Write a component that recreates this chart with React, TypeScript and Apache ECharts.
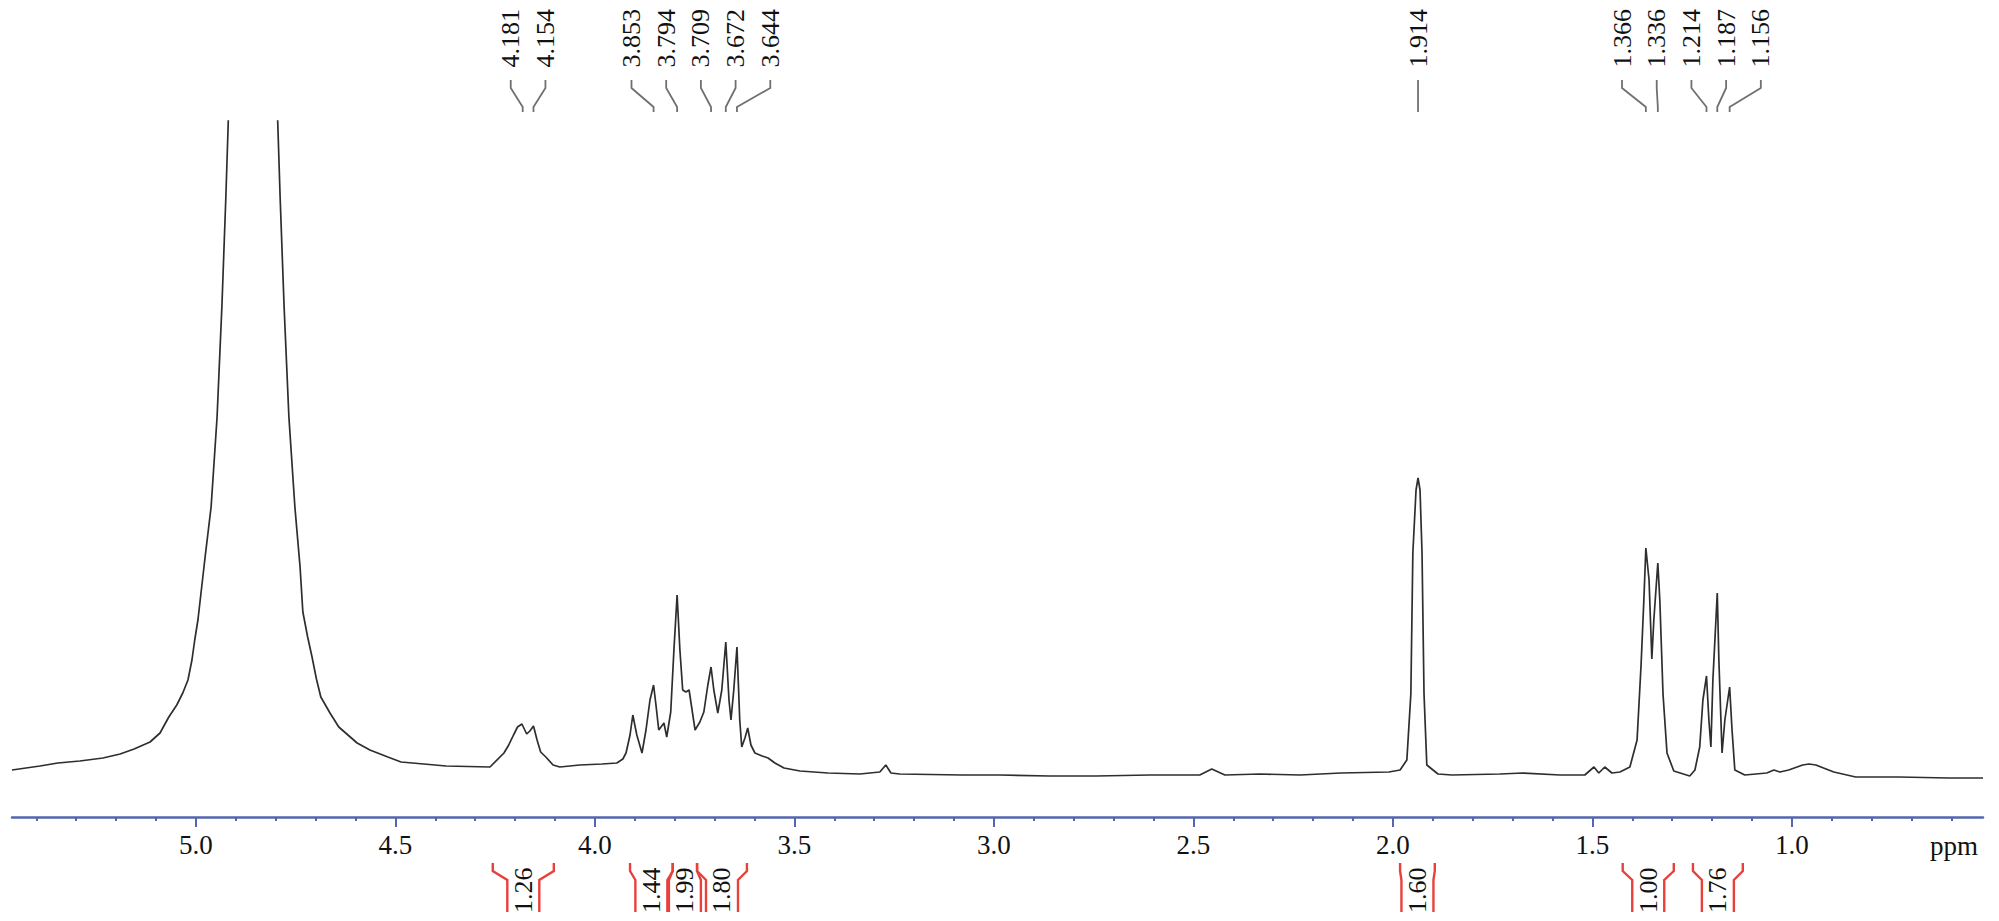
import React, { useEffect, useRef } from "react";
import * as echarts from "echarts";

// 1H NMR spectrum trace: [chemical shift (ppm), intensity (a.u.)]
const spectrum: [number, number][] = [
  [5.461, 47], [5.391, 51], [5.346, 54], [5.291, 56], [5.233, 59], [5.19, 63], [5.155, 68], [5.115, 75],
  [5.09, 84], [5.068, 100], [5.048, 112], [5.033, 124], [5.02, 137], [5.01, 157], [5.003, 177], [4.995, 197],
  [4.977, 260], [4.962, 310], [4.947, 400], [4.935, 510], [4.925, 620], [4.917, 720], [4.9, 1250], [4.88, 2400],
  [4.857, 3900], [4.835, 2400], [4.815, 1250], [4.797, 720], [4.789, 620], [4.779, 510], [4.767, 400], [4.752, 310],
  [4.739, 250], [4.732, 205], [4.72, 180], [4.709, 160], [4.698, 138], [4.687, 120], [4.664, 104], [4.642, 90], [4.596, 74], [4.564, 67],
  [4.519, 60], [4.486, 55], [4.429, 53], [4.373, 51], [4.263, 50],
  [4.228, 64], [4.216, 72], [4.204, 82], [4.194, 90], [4.183, 93], [4.171, 83], [4.163, 86], [4.154, 91],
  [4.145, 77], [4.136, 65], [4.123, 60], [4.105, 52], [4.088, 50], [4.038, 52], [3.982, 53], [3.945, 54],
  [3.93, 58], [3.922, 64], [3.912, 82], [3.905, 102], [3.895, 82], [3.882, 64], [3.872, 87], [3.862, 117],
  [3.853, 132], [3.847, 112], [3.84, 87], [3.827, 94], [3.82, 80], [3.81, 105], [3.802, 167], [3.794, 222],
  [3.787, 167], [3.78, 127], [3.772, 125], [3.764, 127], [3.749, 87], [3.737, 95], [3.727, 105], [3.717, 132],
  [3.709, 150], [3.702, 127], [3.692, 104], [3.682, 127], [3.672, 175], [3.664, 117], [3.659, 97], [3.652, 127],
  [3.644, 170], [3.637, 97], [3.632, 70], [3.624, 79], [3.617, 89], [3.609, 72], [3.599, 64], [3.581, 61],
  [3.566, 59], [3.549, 54], [3.526, 49], [3.486, 46], [3.416, 44], [3.336, 43], [3.286, 45], [3.271, 52],
  [3.258, 44], [3.236, 43], [3.08, 42], [2.985, 42], [2.86, 41], [2.744, 41], [2.609, 42], [2.484, 42],
  [2.454, 48], [2.421, 42], [2.333, 43], [2.233, 42], [2.13, 44], [2.01, 45], [1.982, 47], [1.965, 57],
  [1.955, 123], [1.95, 264], [1.942, 327], [1.937, 339], [1.932, 327], [1.927, 264], [1.922, 123], [1.915, 52],
  [1.887, 43], [1.852, 42], [1.732, 43], [1.674, 44], [1.581, 42], [1.519, 42], [1.496, 50], [1.484, 44],
  [1.469, 50], [1.451, 44], [1.431, 45], [1.406, 50], [1.388, 77], [1.378, 152], [1.371, 217], [1.366, 269],
  [1.358, 237], [1.351, 158], [1.346, 197], [1.336, 254], [1.331, 217], [1.323, 123], [1.313, 64], [1.296, 46],
  [1.256, 41], [1.243, 47], [1.231, 70], [1.223, 117], [1.214, 141], [1.208, 97], [1.203, 70], [1.198, 137],
  [1.187, 224], [1.183, 157], [1.175, 64], [1.168, 97], [1.156, 130], [1.15, 87], [1.143, 47], [1.118, 42],
  [1.063, 44], [1.045, 47], [1.03, 45], [1.008, 47], [0.973, 52], [0.957, 53], [0.94, 52], [0.895, 45],
  [0.84, 40], [0.732, 40], [0.607, 39], [0.521, 39],
];

// Peak picking labels and the shift (on the drawn axis) each one points at
const peakLabels = ["4.181", "4.154", "3.853", "3.794", "3.709", "3.672", "3.644", "1.914", "1.366", "1.336", "1.214", "1.187", "1.156"];
const peakMarkPpm = [4.181, 4.154, 3.853, 3.794, 3.709, 3.672, 3.644, 1.937, 1.366, 1.336, 1.214, 1.187, 1.156];

// Integrals: value and integration range (ppm)
const integralValues = ["1.26", "1.44", "1.99", "1.80", "1.60", "1.00", "1.76"];
const integralFrom = [4.256, 3.912, 3.805, 3.744, 1.982, 1.424, 1.248];
const integralTo = [4.103, 3.805, 3.744, 3.619, 1.895, 1.296, 1.123];

// Axis
const axisMin = 0.521;
const axisMax = 5.461;
const majorTicks = [5.0, 4.5, 4.0, 3.5, 3.0, 2.5, 2.0, 1.5, 1.0];
const minorTicks = [
  5.4, 5.3, 5.2, 5.1, 4.9, 4.8, 4.7, 4.6, 4.4, 4.3, 4.2, 4.1, 3.9, 3.8, 3.7, 3.6, 3.4, 3.3, 3.2, 3.1,
  2.9, 2.8, 2.7, 2.6, 2.4, 2.3, 2.2, 2.1, 1.9, 1.8, 1.7, 1.6, 1.4, 1.3, 1.2, 1.1, 0.9, 0.8, 0.7, 0.6,
];
const axisName = "ppm";

const FONT = "Liberation Serif";
const AXIS_BLUE = "#5566b0";
const RED = "#e8413c";

export default function App() {
  const ref = useRef<HTMLDivElement>(null);

  useEffect(() => {
    const chart = echarts.init(ref.current!, null, { renderer: "svg" });
    chart.setOption({
      animation: false,
      backgroundColor: "#ffffff",
      textStyle: { fontFamily: FONT },
      grid: { left: 12, right: 16, top: 121, bottom: 104, containLabel: false },
      xAxis: [
        {
          type: "value",
          min: axisMin,
          max: axisMax,
          inverse: true,
          position: "bottom",
          axisLine: { show: true, lineStyle: { color: AXIS_BLUE, width: 2.5 } },
          axisTick: { show: true, customValues: majorTicks, length: 10, lineStyle: { color: AXIS_BLUE, width: 2 } },
          axisLabel: {
            show: true,
            customValues: majorTicks,
            formatter: (v: number) => v.toFixed(1),
            margin: 14,
            fontSize: 27,
            fontFamily: FONT,
            color: "#111",
          },
          splitLine: { show: false },
        },
        {
          type: "value",
          min: axisMin,
          max: axisMax,
          inverse: true,
          position: "bottom",
          axisLine: { show: false },
          axisTick: { show: true, customValues: minorTicks, length: 4, lineStyle: { color: AXIS_BLUE, width: 2 } },
          axisLabel: { show: false },
          splitLine: { show: false },
        },
      ],
      yAxis: { type: "value", min: 0, max: 696, show: false },
      series: [
        {
          type: "line",
          xAxisIndex: 0,
          data: spectrum,
          showSymbol: false,
          symbol: "none",
          clip: true,
          silent: true,
          lineStyle: { color: "#2e2e2e", width: 1.7 },
        },
      ],
    });

    const toX = (v: number) => chart.convertToPixel({ xAxisIndex: 0 }, v) as unknown as number;
    const elements: any[] = [];

    // ---- peak labels with de-overlap layout ----
    const gap = 34.7;
    const xs = peakMarkPpm.map(toX);
    let clusters = xs.map((x, i) => ({ idx: [i], sum: x }));
    let changed = true;
    while (changed) {
      changed = false;
      for (let k = 0; k < clusters.length - 1; k++) {
        const a = clusters[k];
        const b = clusters[k + 1];
        const aRight = a.sum / a.idx.length + ((a.idx.length - 1) / 2) * gap;
        const bLeft = b.sum / b.idx.length - ((b.idx.length - 1) / 2) * gap;
        if (bLeft - aRight < gap) {
          clusters.splice(k, 2, { idx: a.idx.concat(b.idx), sum: a.sum + b.sum });
          changed = true;
          break;
        }
      }
    }
    const labelX: number[] = new Array(xs.length);
    clusters.forEach((c) => {
      const center = c.sum / c.idx.length;
      c.idx.forEach((i, j) => {
        labelX[i] = center + (j - (c.idx.length - 1) / 2) * gap;
      });
    });
    peakLabels.forEach((t, i) => {
      const lx = labelX[i];
      const px = xs[i];
      elements.push({
        type: "text",
        x: lx,
        y: 9,
        rotation: Math.PI / 2,
        style: { text: t, fontSize: 26, fontFamily: FONT, fill: "#111", align: "right", verticalAlign: "middle" },
      });
      elements.push({
        type: "polyline",
        shape: { points: [[lx, 80], [lx, 88], [px, 107], [px, 112]] },
        style: { stroke: "#707070", lineWidth: 1.8, fill: null },
      });
    });

    // ---- integrals ----
    integralValues.forEach((t, i) => {
      const oL = toX(integralFrom[i]);
      const oR = toX(integralTo[i]);
      const c = (oL + oR) / 2;
      const iL = c - 16;
      const iR = c + 16;
      elements.push({
        type: "polyline",
        shape: { points: [[oL, 863], [oL, 871], [iL, 880], [iL, 912]] },
        style: { stroke: RED, lineWidth: 2.4, fill: null },
      });
      elements.push({
        type: "polyline",
        shape: { points: [[oR, 863], [oR, 871], [iR, 880], [iR, 912]] },
        style: { stroke: RED, lineWidth: 2.4, fill: null },
      });
      elements.push({
        type: "text",
        x: c,
        y: 913,
        rotation: Math.PI / 2,
        style: { text: t, fontSize: 26, fontFamily: FONT, fill: "#111", align: "left", verticalAlign: "middle" },
      });
    });

    // ---- axis unit ----
    elements.push({
      type: "text",
      x: toX(axisMin) - 5,
      y: 846,
      style: { text: axisName, fontSize: 27, fontFamily: FONT, fill: "#111", align: "right", verticalAlign: "middle" },
    });

    chart.setOption({ graphic: { elements } });

    return () => chart.dispose();
  }, []);

  return (
    <div
      ref={ref}
      style={{ position: "fixed", left: 0, top: 0, width: 1999, height: 921, background: "#fff" }}
    />
  );
}
